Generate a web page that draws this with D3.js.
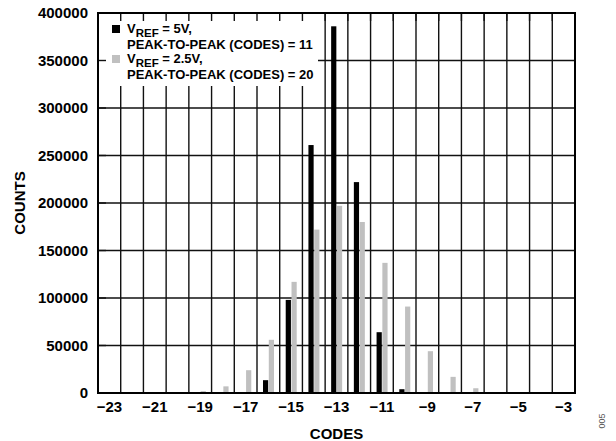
<!DOCTYPE html>
<html>
<head>
<meta charset="utf-8">
<script src="https://cdn.jsdelivr.net/npm/d3@7"></script>
<style>
  body { margin: 0; background: #fff; }
  text { font-family: "Liberation Sans", Arial, sans-serif; }
</style>
</head>
<body>
<div id="container"></div>
<script>
// codes on the x axis (one band per code)
const codes = [-23, -22, -21, -20, -19, -18, -17, -16, -15, -14, -13, -12, -11, -10, -9, -8, -7, -6, -5, -4, -3];
// VREF = 5V counts
const vref5 = [0, 0, 0, 0, 0, 0, 0, 13500, 98000, 261000, 386000, 222000, 64000, 4000, 0, 0, 0, 0, 0, 0, 0];
// VREF = 2.5V counts
const vref25 = [0, 0, 0, 0, 2000, 7000, 24000, 56000, 117000, 172000, 197000, 180000, 137000, 91000, 44000, 17000, 5000, 800, 0, 0, 0];
const xTickLabels = [-23, -21, -19, -17, -15, -13, -11, -9, -7, -5, -3];
const yTicks = [0, 50000, 100000, 150000, 200000, 250000, 300000, 350000, 400000];
const seriesKeys = ["v5", "v25"];
const seriesColors = {v5: "#000000", v25: "#c0c0c0"};

const margin = {top: 13, right: 41, bottom: 48, left: 98},
      width = 616 - margin.left - margin.right,
      height = 441 - margin.top - margin.bottom;

const svgRoot = d3.select("#container").append("svg")
    .attr("width", 616).attr("height", 441);
const svg = svgRoot.append("g")
    .attr("transform", `translate(${margin.left},${margin.top})`);

const x = d3.scaleBand().domain(codes).range([0, width]).padding(0);
const x1 = d3.scaleBand().domain(seriesKeys).range([6, 17]).paddingInner(0.1);
const y = d3.scaleLinear().domain([0, 400000]).range([height, 0]);

// grid
const grid = svg.append("g").attr("stroke", "#111").attr("stroke-width", 1.4);
grid.selectAll(".vg").data(codes.slice(1)).join("line")
    .attr("x1", d => x(d)).attr("x2", d => x(d))
    .attr("y1", 0).attr("y2", height);
grid.selectAll(".hg").data(yTicks.slice(1, -1)).join("line")
    .attr("x1", 0).attr("x2", width)
    .attr("y1", d => y(d)).attr("y2", d => y(d));

// legend background hides grid
svg.append("rect").attr("x", 0).attr("y", 0).attr("width", 220).attr("height", 73).attr("fill", "#fff");

// inward ticks on top and left
const ticks = svg.append("g").attr("stroke", "#111").attr("stroke-width", 1.4);
ticks.selectAll(".tt").data(codes.slice(1)).join("line")
    .attr("x1", d => x(d)).attr("x2", d => x(d)).attr("y1", 0).attr("y2", 8);
ticks.selectAll(".lt").data(yTicks.slice(1, -1)).join("line")
    .attr("x1", 0).attr("x2", 8).attr("y1", d => y(d)).attr("y2", d => y(d));

// bars
const rows = codes.map((c, i) => ({code: c, v5: vref5[i], v25: vref25[i]}));
svg.append("g").selectAll("g").data(rows).join("g")
    .attr("transform", d => `translate(${x(d.code)},0)`)
  .selectAll("rect").data(d => seriesKeys.map(k => ({key: k, value: d[k]})))
  .join("rect")
    .attr("x", d => x1(d.key))
    .attr("y", d => y(d.value))
    .attr("width", x1.bandwidth())
    .attr("height", d => height - y(d.value))
    .attr("fill", d => seriesColors[d.key]);

// frame
svg.append("rect").attr("width", width).attr("height", height)
    .attr("fill", "none").attr("stroke", "#000").attr("stroke-width", 2);

// y axis labels
svg.append("g")
    .call(d3.axisLeft(y).tickValues(yTicks).tickSize(0).tickPadding(10).tickFormat(d3.format("d")))
    .call(g => g.select(".domain").remove())
    .selectAll("text").style("font-size", "15px").style("font-weight", "bold").attr("fill", "#000");

// x axis labels
svg.append("g").attr("transform", `translate(0,${height})`)
    .call(d3.axisBottom(x).tickValues(xTickLabels).tickSize(0).tickPadding(8).tickFormat(d3.format("d")))
    .call(g => g.select(".domain").remove())
    .selectAll("text").style("font-size", "15px").style("font-weight", "bold").attr("fill", "#000");

// axis titles
svgRoot.append("text").attr("x", margin.left + width / 2).attr("y", 439)
    .attr("text-anchor", "middle").style("font-size", "15px").style("font-weight", "bold").text("CODES");
svgRoot.append("text").attr("transform", `translate(25,${margin.top + height / 2}) rotate(-90)`)
    .attr("text-anchor", "middle").style("font-size", "15px").style("font-weight", "bold").text("COUNTS");
svgRoot.append("text").attr("transform", "translate(605,421) rotate(-90)")
    .attr("text-anchor", "middle").style("font-size", "9px").attr("fill", "#555").text("005");

// legend
const legendItems = [
  {key: "v5", ref: " = 5V,", line2: "PEAK-TO-PEAK (CODES) = 11"},
  {key: "v25", ref: " = 2.5V,", line2: "PEAK-TO-PEAK (CODES) = 20"}
];
const legend = svg.append("g").selectAll("g").data(legendItems).join("g")
    .attr("transform", (d, i) => `translate(14,${12 + i * 30})`);
legend.append("rect").attr("width", 8).attr("height", 8).attr("fill", d => seriesColors[d.key]);
const lt = legend.append("text").attr("x", 15).attr("y", 8)
    .style("font-size", "13px").style("font-weight", "bold");
lt.append("tspan").text("V");
lt.append("tspan").attr("dy", 3.5).style("font-size", "11.5px").text("REF");
lt.append("tspan").attr("dy", -3.5).text(d => d.ref);
legend.append("text").attr("x", 15).attr("y", 23.7)
    .style("font-size", "13px").style("font-weight", "bold").text(d => d.line2);
</script>
</body>
</html>
